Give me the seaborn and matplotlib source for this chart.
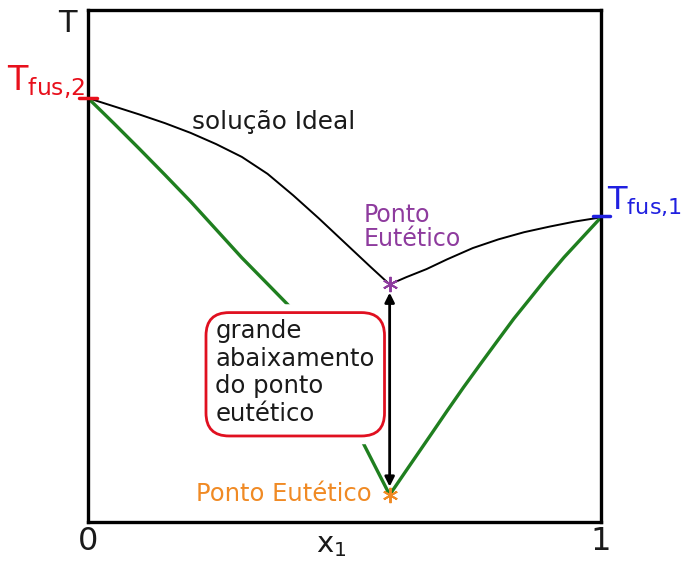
import matplotlib
matplotlib.use("Agg")
import matplotlib.pyplot as plt
from matplotlib.patches import FancyBboxPatch
import seaborn as sns

sns.set_style("white")
plt.rcParams["font.family"] = ["DejaVu Sans"]

# Liquidus curve for the ideal solution (x1, T)
ideal_x = [0.0, 0.05, 0.10, 0.15, 0.20, 0.25, 0.30, 0.35, 0.40, 0.45, 0.50,
           0.55, 0.588, 0.62, 0.66, 0.70, 0.75, 0.80, 0.85, 0.90, 0.95, 1.0]
ideal_T = [0.828, 0.812, 0.796, 0.779, 0.760, 0.738, 0.713, 0.680, 0.638,
           0.593, 0.546, 0.499, 0.464, 0.478, 0.494, 0.513, 0.535, 0.552,
           0.566, 0.577, 0.587, 0.595]

# Liquidus curve for the real (non-ideal) solution
real_x = [0.0, 0.05, 0.10, 0.15, 0.20, 0.25, 0.30, 0.35, 0.391, 0.45, 0.50,
          0.535, 0.588, 0.62, 0.668, 0.70, 0.732, 0.766, 0.799, 0.83, 0.863,
          0.895, 0.928, 0.964, 1.0]
real_T = [0.828, 0.779, 0.729, 0.678, 0.626, 0.571, 0.516, 0.465, 0.423,
          0.33, 0.235, 0.157, 0.053, 0.100, 0.170, 0.217, 0.263, 0.310,
          0.355, 0.397, 0.438, 0.478, 0.517, 0.556, 0.595]

# Melting points of the pure components and the two eutectic points
T_fus_2 = 0.828
T_fus_1 = 0.595
eut_ideal = (0.588, 0.464)
eut_real = (0.588, 0.053)

x_ticks = [0, 1]
x_tick_labels = ["0", "1"]

RED = "#e8101c"
BLUE = "#2020e0"
PURPLE = "#8e3b9e"
ORANGE = "#f08a24"
GREEN = "#1f7f1f"

fig = plt.figure(figsize=(6.87, 5.64), dpi=100)
ax = fig.add_axes([88 / 687, 42 / 564, 513 / 687, 512 / 564])
ax.set_xlim(0, 1)
ax.set_ylim(0, 1)

sns.lineplot(x=ideal_x, y=ideal_T, ax=ax, color="black", linewidth=1.4,
             sort=False, estimator=None, zorder=2)
sns.lineplot(x=real_x, y=real_T, ax=ax, color=GREEN, linewidth=2.4,
             sort=False, estimator=None, zorder=2)

# eutectic markers
ax.plot(*eut_ideal, marker=(6, 2, 0), color=PURPLE, markersize=11, mew=1.4,
        zorder=5, clip_on=False)
ax.plot(*eut_real, marker=(6, 2, 0), color=ORANGE, markersize=11, mew=1.4,
        zorder=5, clip_on=False)

# short marks on the T axes at the melting points
ax.plot([-0.018, 0.018], [T_fus_2, T_fus_2], color=RED, lw=2.5, clip_on=False,
        zorder=6)
ax.plot([0.985, 1.018], [T_fus_1 + 0.003, T_fus_1 + 0.003], color=BLUE, lw=2.5,
        clip_on=False, zorder=6)

# double arrow between the two eutectic temperatures
ax.annotate("", xy=(eut_real[0], eut_real[1] + 0.016),
            xytext=(eut_ideal[0], eut_ideal[1] - 0.016),
            arrowprops=dict(arrowstyle="<|-|>", color="black", lw=2,
                            mutation_scale=14, shrinkA=0, shrinkB=0),
            zorder=4)

# annotation box
box_x0, box_y0, box_w, box_h = 0.230, 0.168, 0.348, 0.241
ax.add_patch(FancyBboxPatch((box_x0, box_y0), box_w, box_h,
                            boxstyle="round,pad=0,rounding_size=0.045",
                            facecolor="white", edgecolor="white", lw=12,
                            zorder=3))
ax.add_patch(FancyBboxPatch((box_x0, box_y0), box_w, box_h,
                            boxstyle="round,pad=0,rounding_size=0.045",
                            facecolor="white", edgecolor="#e01020", lw=2,
                            zorder=3.5))
ax.text(0.248, 0.397, "grande\nabaixamento\ndo ponto\neutético",
        fontsize=17.5, color="#1a1a1a", ha="left", va="top", zorder=4)

ax.text(0.203, 0.768, "solução Ideal", fontsize=17.8, color="#1a1a1a",
        ha="left", va="baseline")
ax.text(0.537, 0.623, "Ponto\nEutético", fontsize=17, color=PURPLE,
        ha="left", va="top", linespacing=1.0)
ax.text(0.553, 0.041, "Ponto Eutético", fontsize=17.5, color=ORANGE,
        ha="right", va="baseline")

# axis annotations outside the frame
ax.text(-0.041, 0.957, "T", fontsize=22, color="#1a1a1a", ha="center",
        va="baseline", transform=ax.transAxes)
ax.text(-0.006, 0.844, r"$\mathregular{T_{fus{,}2}}$", fontsize=24, color=RED,
        ha="right", va="baseline", transform=ax.transAxes)
ax.text(1.012, 0.612, r"$\mathregular{T_{fus{,}1}}$", fontsize=23, color=BLUE,
        ha="left", va="baseline", transform=ax.transAxes)
ax.text(0.474, -0.0586, r"$\mathregular{x_1}$", fontsize=21, color="#1a1a1a",
        ha="center", va="baseline", transform=ax.transAxes)

ax.set_xticks(x_ticks)
ax.set_xticklabels(x_tick_labels, fontsize=23, color="#1a1a1a")
ax.set_yticks([])
ax.tick_params(axis="x", length=0, pad=3)
ax.set_xlabel("")
ax.set_ylabel("")
for s in ax.spines.values():
    s.set_color("black")
    s.set_linewidth(2.4)
    s.set_visible(True)

fig.savefig("out.png", dpi=100)
